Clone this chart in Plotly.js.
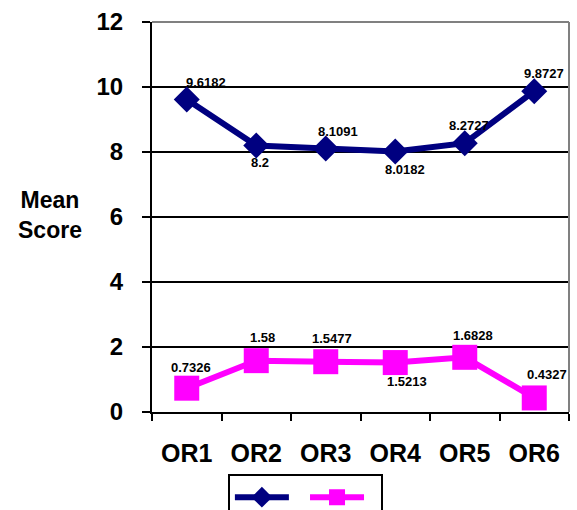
<!DOCTYPE html>
<html>
<head>
<meta charset="utf-8">
<script src="https://cdn.plot.ly/plotly-3.0.1.min.js"></script>
<style>html,body{margin:0;padding:0;background:#fff;}#chart{width:577px;height:510px;}</style>
</head>
<body>
<div id="chart"></div>
<script>
const categories = ['OR1', 'OR2', 'OR3', 'OR4', 'OR5', 'OR6'];
const seriesA = [9.6182, 8.2, 8.1091, 8.0182, 8.2727, 9.8727];
const seriesB = [0.7326, 1.58, 1.5477, 1.5213, 1.6828, 0.4327];
const yTickVals = [0, 2, 4, 6, 8, 10, 12];
const seriesAName = ' ';
const seriesBName = ' ';
const yTitle = 'Mean<br>Score';

// label offsets (pixels) – styling only
const shiftA = [[19, 17], [4, -17], [12, 17], [10, -18], [4, 18], [10, 18]];
const shiftB = [[4, 21], [6, 23], [6, 23], [12, -19], [8, 22], [13, 23]];

const FONT = 'Arial, "Liberation Sans", sans-serif';

const traces = [
  {
    x: categories, y: seriesA, name: seriesAName, type: 'scatter', mode: 'lines+markers',
    line: {color: '#000080', width: 6},
    marker: {symbol: 'diamond', size: 20, color: '#000080'},
    cliponaxis: false
  },
  {
    x: categories, y: seriesB, name: seriesBName, type: 'scatter', mode: 'lines+markers',
    line: {color: '#FF00FF', width: 6},
    marker: {symbol: 'square', size: 25, color: '#FF00FF'},
    cliponaxis: false
  }
];

const annotations = [];
seriesA.forEach((v, i) => annotations.push({
  x: categories[i], y: v, xref: 'x', yref: 'y', text: String(v), showarrow: false,
  xshift: shiftA[i][0], yshift: shiftA[i][1],
  font: {family: FONT, size: 13, weight: 700, color: '#000'}
}));
seriesB.forEach((v, i) => annotations.push({
  x: categories[i], y: v, xref: 'x', yref: 'y', text: String(v), showarrow: false,
  xshift: shiftB[i][0], yshift: shiftB[i][1],
  font: {family: FONT, size: 13, weight: 700, color: '#000'}
}));
annotations.push({
  xref: 'paper', yref: 'paper', x: -0.245, y: 0.505, xanchor: 'center', yanchor: 'middle',
  text: yTitle, showarrow: false, align: 'center',
  font: {family: FONT, size: 23, weight: 700, color: '#000'}
});

const layout = {
  width: 577, height: 510,
  margin: {l: 152, r: 8, t: 22, b: 98, autoexpand: false},
  paper_bgcolor: '#fff', plot_bgcolor: '#fff',
  font: {family: FONT, color: '#000'},
  showlegend: true,
  legend: {
    orientation: 'h', x: 0.182, xanchor: 'left', y: -0.16, yanchor: 'top',
    bordercolor: '#000', borderwidth: 2, bgcolor: '#fff',
    font: {family: FONT, size: 22}, itemwidth: 54
  },
  xaxis: {
    type: 'category', range: [-0.5, 5.5], tickson: 'boundaries',
    showline: true, linecolor: '#000', linewidth: 2,
    ticks: 'outside', ticklen: 7, tickwidth: 2, tickcolor: '#000',
    showgrid: false, zeroline: false, ticklabelstandoff: 18, automargin: false,
    tickfont: {family: FONT, size: 25, weight: 700, color: '#000'},
    fixedrange: true
  },
  yaxis: {
    range: [0, 12], tickvals: yTickVals, ticktext: yTickVals.map(String),
    showline: true, linecolor: '#000', linewidth: 2,
    ticks: 'outside', ticklen: 8, tickwidth: 2, tickcolor: '#000',
    showgrid: true, gridcolor: '#000', gridwidth: 2, zeroline: false,
    ticklabelstandoff: 14, automargin: false,
    tickfont: {family: FONT, size: 24, weight: 700, color: '#000'},
    fixedrange: true
  },
  shapes: [
    {type: 'line', xref: 'paper', yref: 'paper', x0: 0, x1: 1, y0: 1, y1: 1, line: {color: '#808080', width: 2}, layer: 'above'},
    {type: 'line', xref: 'paper', yref: 'paper', x0: 1, x1: 1, y0: 0, y1: 1, line: {color: '#808080', width: 2}, layer: 'above'}
  ],
  annotations: annotations
};

Plotly.newPlot('chart', traces, layout, {displayModeBar: false, staticPlot: true});
</script>
</body>
</html>
